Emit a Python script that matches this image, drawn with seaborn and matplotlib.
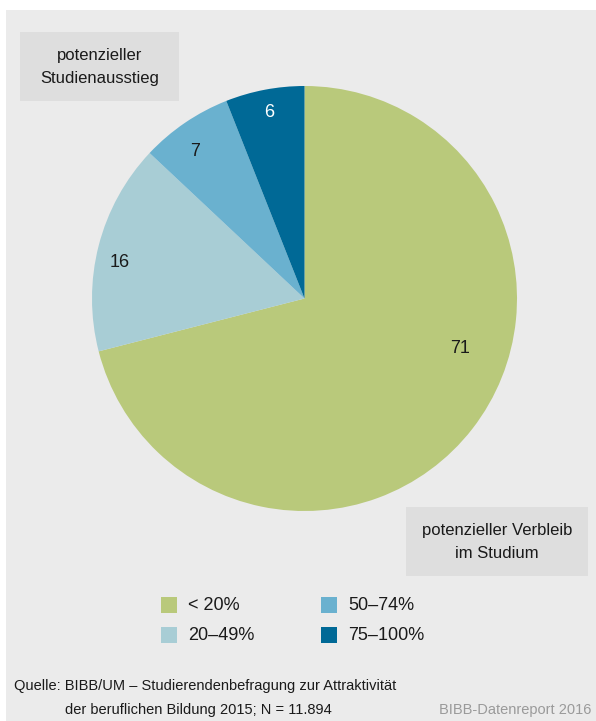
import matplotlib
matplotlib.use("Agg")
import matplotlib.pyplot as plt
from matplotlib.patches import Rectangle
import numpy as np
import seaborn as sns

# Share of students by probability of dropping out (in %)
categories = ["< 20%", "20–49%", "50–74%", "75–100%"]
shares = [71, 16, 7, 6]
colors = ["#b9c97b", "#a8cdd5", "#6ab1cf", "#006996"]

box_top = "potenzieller\nStudienausstieg"
box_bottom = "potenzieller Verbleib\nim Studium"
source_1 = "Quelle: BIBB/UM – Studierendenbefragung zur Attraktivität"
source_2 = "der beruflichen Bildung 2015; N = 11.894"
credit = "BIBB-Datenreport 2016"

sns.set_theme(style="white")
plt.rcParams["font.family"] = ["Liberation Sans", "DejaVu Sans"]

W, H = 596, 721
fig = plt.figure(figsize=(W / 100, H / 100), dpi=100)
fig.patch.set_facecolor("white")


def fx(x):
    return x / W


def fy(y):
    return 1 - y / H


def rect(x0, y0, x1, y1, color):
    fig.patches.append(Rectangle((fx(x0), fy(y1)), fx(x1) - fx(x0), fy(y0) - fy(y1),
                                 transform=fig.transFigure, facecolor=color,
                                 edgecolor="none", zorder=0))


# panel background
rect(6, 10, 596, 721, "#ebebeb")

# pie
cx, cy, r = 304.5, 298.5, 212.5
ax = fig.add_axes([fx(cx - r), fy(cy + r), fx(2 * r), (2 * r) / H])
ax.set_zorder(2)
ax.patch.set_visible(False)
wedges, _ = ax.pie(shares, colors=colors, startangle=90, counterclock=False,
                   radius=1, wedgeprops=dict(linewidth=0))
ax.set_xlim(-1, 1)
ax.set_ylim(-1, 1)
ax.set_aspect("equal")
ax.axis("off")

# value labels: radial distance and angular nudge (degrees) per wedge
label_dist = [0.77, 0.885, 0.86, 0.89]
label_nudge = [20.0, 3.5, 2.5, 0.0]
total = sum(shares)
start = 90.0
for i, v in enumerate(shares):
    span = 360.0 * v / total
    mid = np.deg2rad(start - span / 2 + label_nudge[i])
    start -= span
    x, y = label_dist[i] * np.cos(mid), label_dist[i] * np.sin(mid)
    ax.text(x, y, str(v), ha="center", va="center", fontsize=13,
            color="white" if i == 3 else "#1a1a1a")

# annotation boxes
rect(20, 32, 179, 101, "#dedede")
fig.text(fx(99.5), fy(67), box_top, ha="center", va="center", fontsize=12,
         color="#1a1a1a", linespacing=1.6)
rect(406, 507, 588, 576, "#dedede")
fig.text(fx(497), fy(542), box_bottom, ha="center", va="center", fontsize=12,
         color="#1a1a1a", linespacing=1.6)

# legend
legend_pos = [(161, 597), (161, 627), (321, 597), (321, 627)]
for (lx, ly), lab, col in zip(legend_pos, categories, colors):
    rect(lx, ly, lx + 16, ly + 16, col)
    fig.text(fx(lx + 27), fy(ly + 8.5), lab, ha="left", va="center", fontsize=13,
             color="#1a1a1a")

# source and credit
fig.text(fx(14), fy(686), source_1, ha="left", va="center", fontsize=10.5,
         color="#1a1a1a")
fig.text(fx(65), fy(710), source_2, ha="left", va="center", fontsize=10.5,
         color="#1a1a1a")
fig.text(fx(591), fy(710), credit, ha="right", va="center", fontsize=10.5,
         color="#9a9a9a")

fig.savefig("out.png", dpi=100, facecolor=fig.get_facecolor())
